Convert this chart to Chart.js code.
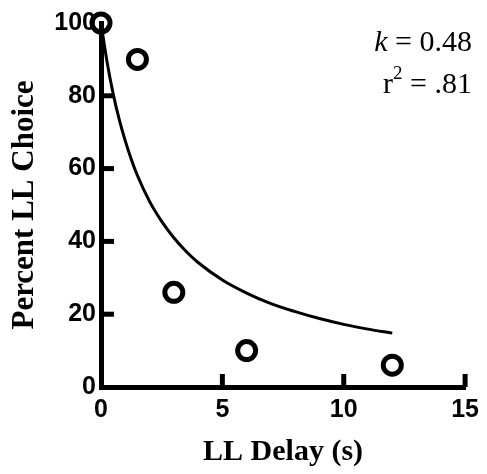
<!DOCTYPE html>
<html>
<head>
<meta charset="UTF-8">
<title>Percent LL Choice</title>
<script src="https://cdn.jsdelivr.net/npm/chart.js@4/dist/chart.umd.min.js"></script>
<style>
  body { margin: 0; background: #fff; }
  #wrap { width: 487px; height: 474px; }
</style>
</head>
<body>
<div id="wrap"><canvas id="myChart" width="487" height="474"></canvas></div>
<script>
// observed points
var delays = [0, 1.5, 3, 6, 12];
var choice = [100, 90, 26, 10, 6];

// fitted curve
var curveX = [0, 0.25, 0.5, 0.75, 1, 1.25, 1.5, 2, 2.5, 3, 3.5, 4, 5, 6, 7, 8, 9, 10, 11, 12];
var curveY = [100, 89.3, 80.6, 73.5, 67.6, 62.5, 58.1, 51, 45.5, 41, 37.3, 34.2, 29.4, 25.8, 22.9, 20.7, 18.8, 17.2, 15.9, 14.8];

var xTicks = [0, 5, 10, 15];
var yTicks = [0, 20, 40, 60, 80, 100];

var statK = '0.48';
var statR2 = '.81';

function pts(xs, ys) {
  var out = [];
  for (var i = 0; i < xs.length; i++) out.push({ x: xs[i], y: ys[i] });
  return out;
}

// inward tick marks + fit text
var extras = {
  id: 'extras',
  afterDatasetsDraw: function (chart) {
    var ctx = chart.ctx;
    var xs = chart.scales.x, ys = chart.scales.y;
    var a = chart.chartArea;
    ctx.save();
    ctx.strokeStyle = '#000';
    ctx.lineWidth = 5;
    xTicks.forEach(function (v) {
      if (v === 0) return;
      var px = xs.getPixelForValue(v);
      ctx.beginPath();
      ctx.moveTo(px, a.bottom);
      ctx.lineTo(px, a.bottom - 13);
      ctx.stroke();
    });
    yTicks.forEach(function (v) {
      if (v === 0 || v === 100) return;
      var py = ys.getPixelForValue(v);
      ctx.beginPath();
      ctx.moveTo(a.left, py);
      ctx.lineTo(a.left + 13, py);
      ctx.stroke();
    });
    // k and r^2
    ctx.fillStyle = '#000';
    ctx.textBaseline = 'alphabetic';
    ctx.textAlign = 'left';
    var right = 472;
    ctx.font = '30px "Liberation Serif"';
    var rest = ' = ' + statK;
    var wRest = ctx.measureText(rest).width;
    ctx.font = 'italic 30px "Liberation Serif"';
    var wK = ctx.measureText('k').width;
    var x0 = right - wRest - wK;
    ctx.fillText('k', x0, 51);
    ctx.font = '30px "Liberation Serif"';
    ctx.fillText(rest, x0 + wK, 51);

    var rest2 = ' = ' + statR2;
    var wRest2 = ctx.measureText(rest2).width;
    var wR = ctx.measureText('r').width;
    ctx.font = '19px "Liberation Serif"';
    var w2 = ctx.measureText('2').width;
    var x1 = right - wRest2 - w2 - wR;
    ctx.font = '30px "Liberation Serif"';
    ctx.fillText('r', x1, 93);
    ctx.font = '19px "Liberation Serif"';
    ctx.fillText('2', x1 + wR, 79);
    ctx.font = '30px "Liberation Serif"';
    ctx.fillText(rest2, x1 + wR + w2, 93);
    ctx.restore();
  }
};

var ctx = document.getElementById('myChart').getContext('2d');
var myChart = new Chart(ctx, {
  type: 'scatter',
  data: {
    datasets: [
      {
        label: 'fit',
        data: pts(curveX, curveY),
        showLine: true,
        borderColor: '#000',
        borderWidth: 3,
        pointRadius: 0,
        cubicInterpolationMode: 'monotone',
        order: 2
      },
      {
        label: 'data',
        data: pts(delays, choice),
        showLine: false,
        pointRadius: 9,
        pointBorderWidth: 5,
        pointBorderColor: '#000',
        pointBackgroundColor: 'rgba(255,255,255,0)',
        clip: false,
        order: 1
      }
    ]
  },
  options: {
    responsive: false,
    animation: false,
    events: [],
    layout: { padding: { top: 23, right: 20, left: 0, bottom: 0 } },
    plugins: { legend: { display: false }, tooltip: { enabled: false } },
    scales: {
      x: {
        type: 'linear',
        min: 0, max: 15,
        afterFit: function (s) { s.height = 87; },
        afterBuildTicks: function (s) { s.ticks = xTicks.map(function (v) { return { value: v }; }); },
        border: { display: true, color: '#000', width: 5 },
        grid: { display: false, drawTicks: false },
        ticks: {
          padding: 8,
          color: '#000',
          font: { family: '"Liberation Sans"', weight: 'bold', size: 25 }
        },
        title: {
          display: true,
          text: 'LL Delay (s)',
          color: '#000',
          padding: { top: 0, bottom: 4 },
          font: { family: '"Liberation Serif"', weight: 'bold', size: 30 }
        }
      },
      y: {
        type: 'linear',
        min: 0, max: 100,
        afterFit: function (s) { s.width = 101; },
        afterBuildTicks: function (s) { s.ticks = yTicks.map(function (v) { return { value: v }; }); },
        border: { display: true, color: '#000', width: 5 },
        grid: { display: false, drawTicks: false },
        ticks: {
          padding: 5,
          color: '#000',
          font: { family: '"Liberation Sans"', weight: 'bold', size: 25 }
        },
        title: {
          display: true,
          text: 'Percent LL Choice',
          color: '#000',
          padding: { top: 6, bottom: 0 },
          font: { family: '"Liberation Serif"', weight: 'bold', size: 31 }
        }
      }
    }
  },
  plugins: [extras]
});
</script>
</body>
</html>
